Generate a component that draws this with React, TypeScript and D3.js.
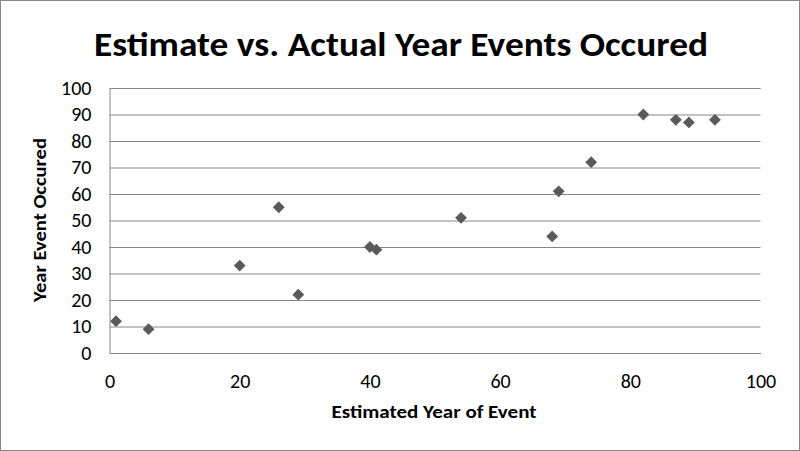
import React, { useEffect, useRef } from 'react';
import * as d3 from 'd3';

const estimated = [1, 6, 20, 26, 29, 40, 41, 54, 68, 69, 74, 82, 87, 89, 93];
const actual = [12, 9, 33, 55, 22, 40, 39, 51, 44, 61, 72, 90, 88, 87, 88];
const tickValues = [0, 10, 20, 30, 40, 50, 60, 70, 80, 90, 100];
const xTickValues = [0, 20, 40, 60, 80, 100];

const W = 800;
const H = 451;

const App = () => {
    const svgRef = useRef(null);

    useEffect(() => {
        document.body.style.margin = '0';
        const svg = d3.select(svgRef.current);
        svg.selectAll('*').remove();

        const font = "Carlito, 'Open Sans', 'Liberation Sans', sans-serif";
        const margin = { top: 88, right: 39.5, bottom: 98, left: 109.5 };

        const x = d3.scaleLinear().domain([0, 100]).range([margin.left, W - margin.right]);
        const y = d3.scaleLinear().domain([0, 100]).range([H - margin.bottom, margin.top]);

        // outer border
        svg.append('rect')
            .attr('x', 0.5).attr('y', 0.5)
            .attr('width', W - 1).attr('height', H - 1)
            .attr('fill', '#fff')
            .attr('stroke', '#888');

        // title
        svg.append('text')
            .attr('x', 401).attr('y', 56)
            .attr('text-anchor', 'middle')
            .attr('font-family', font)
            .attr('font-weight', 'bold')
            .attr('font-size', 35)
            .attr('textLength', 614)
            .attr('lengthAdjust', 'spacingAndGlyphs')
            .text('Estimate vs. Actual Year Events Occured');

        // grid + y axis
        const yAxis = d3.axisLeft(y)
            .tickValues(tickValues)
            .tickSize(-(W - margin.left - margin.right))
            .tickPadding(18)
            .tickFormat(d3.format('d'));

        const gy = svg.append('g')
            .attr('transform', `translate(${margin.left},0)`)
            .call(yAxis);
        gy.select('.domain').attr('stroke', '#868686');
        gy.selectAll('line').attr('stroke', '#868686');
        gy.selectAll('text')
            .attr('font-family', font)
            .attr('font-size', 20)
            .attr('fill', '#000');

        const xAxis = d3.axisBottom(x)
            .tickValues(xTickValues)
            .tickSize(0)
            .tickPadding(21)
            .tickFormat(d3.format('d'));

        const gx = svg.append('g')
            .attr('transform', `translate(0,${H - margin.bottom})`)
            .call(xAxis);
        gx.select('.domain').attr('stroke', '#868686');
        gx.selectAll('text')
            .attr('font-family', font)
            .attr('font-size', 20)
            .attr('fill', '#000');

        // axis titles
        svg.append('text')
            .attr('x', 434).attr('y', 418)
            .attr('text-anchor', 'middle')
            .attr('font-family', font)
            .attr('font-weight', 'bold')
            .attr('font-size', 18)
            .attr('textLength', 205)
            .attr('lengthAdjust', 'spacingAndGlyphs')
            .text('Estimated Year of Event');

        svg.append('text')
            .attr('transform', `translate(46,220) rotate(-90)`)
            .attr('text-anchor', 'middle')
            .attr('font-family', font)
            .attr('font-weight', 'bold')
            .attr('font-size', 18)
            .attr('textLength', 164)
            .attr('lengthAdjust', 'spacingAndGlyphs')
            .text('Year Event Occured');

        // points
        const diamond = d3.symbol().type(d3.symbolSquare).size(70);
        svg.append('g')
            .selectAll('path')
            .data(estimated.map((e, i) => [e, actual[i]]))
            .join('path')
            .attr('d', diamond)
            .attr('transform', d => `translate(${x(d[0])},${y(d[1])}) rotate(45)`)
            .attr('fill', '#5a5a5a');
    }, []);

    return <svg ref={svgRef} width={W} height={H} style={{ display: 'block' }}></svg>;
};

export default App;
